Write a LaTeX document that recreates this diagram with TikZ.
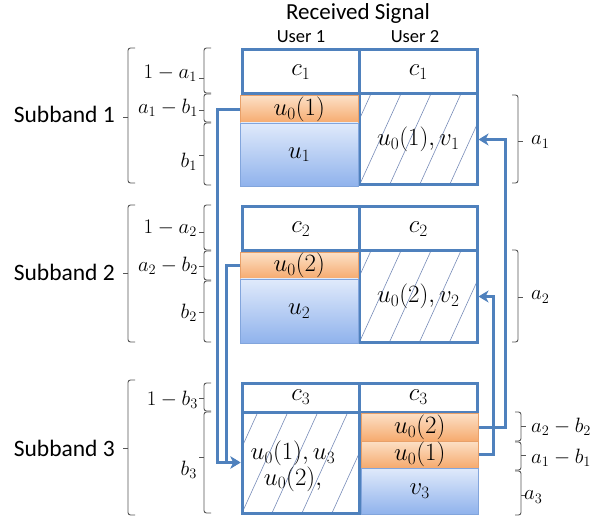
\documentclass[tikz,border=0pt]{standalone}
\usepackage{fontspec}
\setsansfont{Carlito}
\usetikzlibrary{arrows.meta,calc}
\definecolor{bordblue}{RGB}{79,129,189}
\definecolor{orTop}{RGB}{252,224,198}
\definecolor{orBot}{RGB}{246,170,110}
\definecolor{orEdge}{RGB}{232,160,105}
\definecolor{blTop}{RGB}{224,234,251}
\definecolor{blBot}{RGB}{143,178,236}
\definecolor{blEdge}{RGB}{130,165,220}
\definecolor{hatchc}{RGB}{120,140,185}
\definecolor{bracec}{RGB}{85,85,85}
\newcommand{\myboxfont}{\fontsize{25}{22}\selectfont}
\newcommand{\mylabfont}{\fontsize{21.5}{22}\selectfont}
\newcommand{\mybrL}[4]{\draw[bracestyle] (#1+7,#2) -- (#1,#2) -- (#1,#3) -- (#1+7,#3); \draw[bracestyle] (#1,#4) -- (#1-5,#4);}
\newcommand{\mybrR}[4]{\draw[bracestyle] (#1-6,#2) -- (#1,#2) -- (#1,#3) -- (#1-6,#3); \draw[bracestyle] (#1,#4) -- (#1+5,#4);}
\begin{document}
\begin{tikzpicture}[x=1pt,y=-1pt,
  bracestyle/.style={draw=bracec, line width=0.9pt, rounded corners=2.5pt},
  cell/.style={draw=bordblue, line width=3pt, inner sep=0pt, font=\myboxfont},
  hatch/.style={cell, path picture={\foreach \k in {-3,...,5}{\draw[draw=hatchc,line width=0.6pt] ($(path picture bounding box.south west)+(\k*30,0)$) -- ++(50,-110);}}},
  ocell/.style={inner sep=0pt, top color=orTop, bottom color=orBot, draw=orEdge, line width=0.5pt, font=\myboxfont},
  bcell/.style={inner sep=0pt, top color=blTop, bottom color=blBot, draw=blEdge, line width=0.5pt, font=\myboxfont},
  conn/.style={draw=bordblue, line width=3pt, -{Stealth[length=10pt,width=12pt,inset=3pt]}},
  lab/.style={inner sep=0pt, font=\mylabfont, text=black},
  sanslab/.style={inner sep=0pt, text=black}]
\fill[white] (0,0) rectangle (591,518);
\useasboundingbox (0,0) rectangle (591,518);

% titles
\node[sanslab, anchor=base, font=\sffamily\fontsize{23}{26}\selectfont] (title) at (358,19.5) {Received Signal};
\node[sanslab, anchor=base, font=\sffamily\fontsize{18.5}{22}\selectfont] (user1) at (301,43) {User 1};
\node[sanslab, anchor=base, font=\sffamily\fontsize{18.5}{22}\selectfont] (user2) at (415,43) {User 2};

% Subband 1
\node[cell, minimum width=117.5pt, minimum height=44pt] (cL1) at (300.75,72) {$c_1$};
\node[cell, minimum width=117.5pt, minimum height=44pt] (cR1) at (418.25,72) {$c_1$};
\node[hatch, minimum width=117.5pt, minimum height=91pt] (hR1) at (418.25,139.5) {$u_0(1), v_1$};
\node[ocell, minimum width=117.5pt, minimum height=27.5pt] (oL1) at (299.25,109.25) {$u_0(1)$};
\node[bcell, minimum width=117.5pt, minimum height=63.5pt] (bL1) at (299.25,154.75) {$u_1$};

% Subband 2
\node[cell, minimum width=117.5pt, minimum height=44pt] (cL2) at (300.75,229) {$c_2$};
\node[cell, minimum width=117.5pt, minimum height=44pt] (cR2) at (418.25,229) {$c_2$};
\node[hatch, minimum width=117.5pt, minimum height=91pt] (hR2) at (418.25,296.5) {$u_0(2), v_2$};
\node[ocell, minimum width=117.5pt, minimum height=26.5pt] (oL2) at (299.25,265.75) {$u_0(2)$};
\node[bcell, minimum width=117.5pt, minimum height=64.5pt] (bL2) at (299.25,311.25) {$u_2$};

% Subband 3
\node[cell, minimum width=117.5pt, minimum height=29pt] (cL3) at (300.75,397.5) {$c_3$};
\node[cell, minimum width=117.5pt, minimum height=29pt] (cR3) at (418.25,397.5) {$c_3$};
\node[hatch, minimum width=117.5pt, minimum height=101pt] (hL3) at (300.75,462.5) {};
\node[inner sep=0pt, align=center, font=\myboxfont] (t3) at (293,466) {$u_0(1), u_3$\\$u_0(2),$};
\node[ocell, minimum width=117.5pt, minimum height=27.5pt] (oR2) at (419.75,427.25) {$u_0(2)$};
\node[ocell, minimum width=117.5pt, minimum height=27pt] (oR1) at (419.75,454.5) {$u_0(1)$};
\node[bcell, minimum width=117.5pt, minimum height=46.5pt] (bR3) at (419.75,491.25) {$v_3$};

% connectors
\draw[conn] (oL1.west) -- ++(-23,0) |- (hL3.west);
\draw[conn] (oL2.west) -- ++(-14,0) |- (hL3.west);
\draw[conn] (oR2.east) -- ++(27,0) |- (hR1.east);
\draw[conn] (oR1.east) -- ++(15,0) |- (hR2.east);

% left big braces and subband labels
\mybrL{128}{48}{183}{117}
\mybrL{128}{205}{342}{273}
\mybrL{128}{380}{515}{448}
\node[sanslab, anchor=base east, font=\sffamily\fontsize{23.5}{26}\selectfont] (sb1) at (115,123) {Subband 1};
\node[sanslab, anchor=base east, font=\sffamily\fontsize{23.5}{26}\selectfont] (sb2) at (115,281) {Subband 2};
\node[sanslab, anchor=base east, font=\sffamily\fontsize{23.5}{26}\selectfont] (sb3) at (115,456) {Subband 3};

% small left braces
\mybrL{204}{48}{93}{78}
\mybrL{204}{94}{122}{110}
\mybrL{204}{123}{185}{155}
\mybrL{204}{205}{250}{232}
\mybrL{204}{251}{280}{266}
\mybrL{204}{281}{342}{312}
\mybrL{204}{383}{411}{398}
\mybrL{204}{412}{513}{457}
\node[lab, anchor=east] (la11) at (197,73) {$1-a_1$};
\node[lab, anchor=east] (la12) at (198,108) {$a_1-b_1$};
\node[lab, anchor=east] (la13) at (197,162) {$b_1$};
\node[lab, anchor=east] (la21) at (197,228) {$1-a_2$};
\node[lab, anchor=east] (la22) at (198,266) {$a_2-b_2$};
\node[lab, anchor=east] (la23) at (197,313) {$b_2$};
\node[lab, anchor=east] (la31) at (198,400) {$1-b_3$};
\node[lab, anchor=east] (la32) at (197,470) {$b_3$};

% right braces
\mybrR{518}{95}{183}{141}
\mybrR{518}{250}{342}{297}
\mybrR{521}{412}{441}{426}
\mybrR{521}{442}{470}{455}
\mybrR{521}{471}{515}{495}
\node[lab, anchor=west] (ra1) at (531,142) {$a_1$};
\node[lab, anchor=west] (ra2) at (531,297) {$a_2$};
\node[lab, anchor=west] (ra31) at (531,427) {$a_2-b_2$};
\node[lab, anchor=west] (ra32) at (531,458) {$a_1-b_1$};
\node[lab, anchor=west] (ra33) at (524,497) {$a_3$};
\end{tikzpicture}
\end{document}
